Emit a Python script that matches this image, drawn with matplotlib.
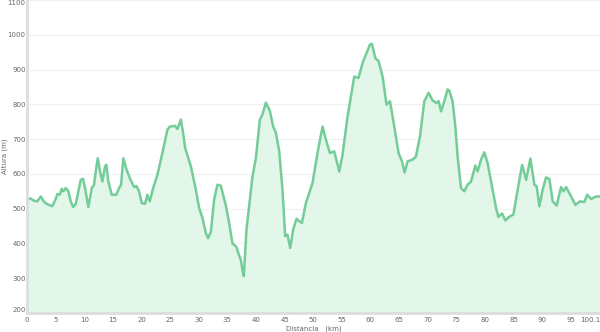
import numpy as np
import matplotlib
matplotlib.use('Agg')
import matplotlib.pyplot as plt

# elevation profile (km, m)
dist_km = [0.0, 0.65, 1.22, 1.80, 2.40, 2.97, 3.50, 4.42, 5.02, 5.30, 5.72, 6.07, 6.35, 6.77,
           7.22, 7.64, 8.04, 8.51, 8.92, 9.39, 9.79, 10.14, 10.72, 11.31, 11.71, 12.01, 12.36,
           12.76, 13.16, 13.64, 13.86, 14.21, 14.81, 15.61, 16.08, 16.43, 16.84, 17.36, 17.95,
           18.71, 19.11, 19.58, 20.05, 20.63, 21.03, 21.45, 22.03, 22.78, 23.65, 24.53, 24.95,
           25.87, 26.28, 26.87, 27.27, 27.62, 28.62, 29.49, 30.07, 30.65, 31.24, 31.64, 32.12,
           32.69, 33.27, 33.86, 34.74, 35.31, 35.89, 36.59, 36.94, 37.36, 37.64, 37.88, 38.34,
           38.81, 39.39, 39.98, 40.68, 41.14, 41.73, 42.43, 43.01, 43.48, 44.06, 44.63, 45.10,
           45.51, 45.98, 46.50, 47.08, 47.55, 48.02, 48.72, 49.88, 50.75, 51.63, 52.22, 52.92,
           53.67, 54.55, 55.12, 56.00, 57.17, 57.92, 58.62, 59.21, 59.91, 60.26, 60.84, 61.42,
           62.12, 62.81, 63.41, 64.16, 64.91, 65.51, 65.96, 66.49, 67.36, 67.95, 68.65, 69.41,
           70.16, 70.86, 71.56, 71.91, 72.33, 72.90, 73.48, 73.78, 74.35, 74.83, 75.23, 75.82,
           76.40, 76.97, 77.57, 78.32, 78.72, 79.32, 79.90, 80.47, 81.24, 81.94, 82.34, 82.99,
           83.57, 84.27, 84.97, 85.72, 86.49, 87.19, 87.94, 88.64, 89.04, 89.51, 90.09, 90.68,
           91.26, 91.84, 92.53, 93.30, 93.71, 94.18, 95.05, 95.80, 96.63, 97.38, 97.85, 98.55,
           99.42, 100.1]
altura_m = [529, 529, 523, 521, 535, 520, 513, 507, 528, 542, 540, 557, 550, 559,
            550, 521, 505, 513, 545, 583, 586, 559, 505, 559, 569, 607, 645,
            607, 578, 622, 626, 578, 540, 540, 559, 569, 645, 614, 588,
            562, 565, 550, 516, 514, 540, 521, 559, 597, 660, 727, 736,
            738, 729, 756, 718, 675, 622, 555, 502, 473, 430, 415, 434,
            526, 569, 566, 509, 459, 400, 390, 371, 352, 323, 306, 440,
            509, 592, 645, 756, 771, 805, 781, 736, 718, 665, 555, 421,
            425, 387, 440, 471, 464, 459, 516, 574, 660, 736, 698, 660,
            665, 607, 655, 765, 880, 876, 919, 943, 972, 974, 933, 924,
            880, 799, 809, 736, 660, 636, 604, 636, 641, 650, 708, 809,
            833, 811, 804, 809, 780, 809, 843, 839, 809, 736, 650, 559,
            550, 569, 578, 624, 607, 641, 662, 631, 564, 502, 476, 486,
            466, 477, 483, 555, 626, 583, 644, 569, 564, 507, 555, 590,
            585, 521, 509, 562, 550, 562, 535, 511, 521, 519, 540, 528,
            535, 535]

x_ticks = [0, 5, 10, 15, 20, 25, 30, 35, 40, 45, 50, 55, 60, 65, 70, 75, 80, 85, 90, 95, 100.1]
x_tick_labels = [str(t) for t in x_ticks]
y_ticks = [200, 300, 400, 500, 600, 700, 800, 900, 1000, 1100]

line_color = '#74cc98'
fill_color = '#e2f6ea'
text_color = '#666666'

fig = plt.figure(figsize=(6, 3.32), dpi=100)
ax = fig.add_axes([27 / 600, 19 / 332, 1 - 27 / 600, 313 / 332])

ax.fill_between(dist_km, altura_m, 200, color=fill_color, lw=0)
ax.plot(dist_km, altura_m, color=line_color, lw=1.8, solid_joinstyle='round')

ax.set_xlim(0, 100.1)
ax.set_ylim(200, 1100)
ax.set_xticks(x_ticks)
ax.set_xticklabels(x_tick_labels)
ax.set_yticks(y_ticks)

ax.grid(axis='y', color='#f0f0f0', lw=0.8)
ax.set_axisbelow(True)
ax.tick_params(length=0, labelsize=5, colors=text_color)
ax.tick_params(axis='y', pad=1)
ax.tick_params(axis='x', pad=3)

for s in ['top', 'right']:
    ax.spines[s].set_visible(False)
for s in ['left', 'bottom']:
    ax.spines[s].set_color('#dddddd')
    ax.spines[s].set_linewidth(2)

# keep edge labels inside the picture
xlabels = ax.get_xticklabels()
xlabels[-1].set_ha('right')
ylabels = ax.get_yticklabels()
ylabels[-1].set_va('top')
ylabels[0].set_va('bottom')

ax.set_xlabel('Distancia   (km)', fontsize=5, color=text_color, labelpad=2)
ax.set_ylabel('Altura (m)', fontsize=5, color=text_color)
ax.yaxis.set_label_coords(-19 / 573, 0.5)

fig.savefig('out.png', dpi=100)
